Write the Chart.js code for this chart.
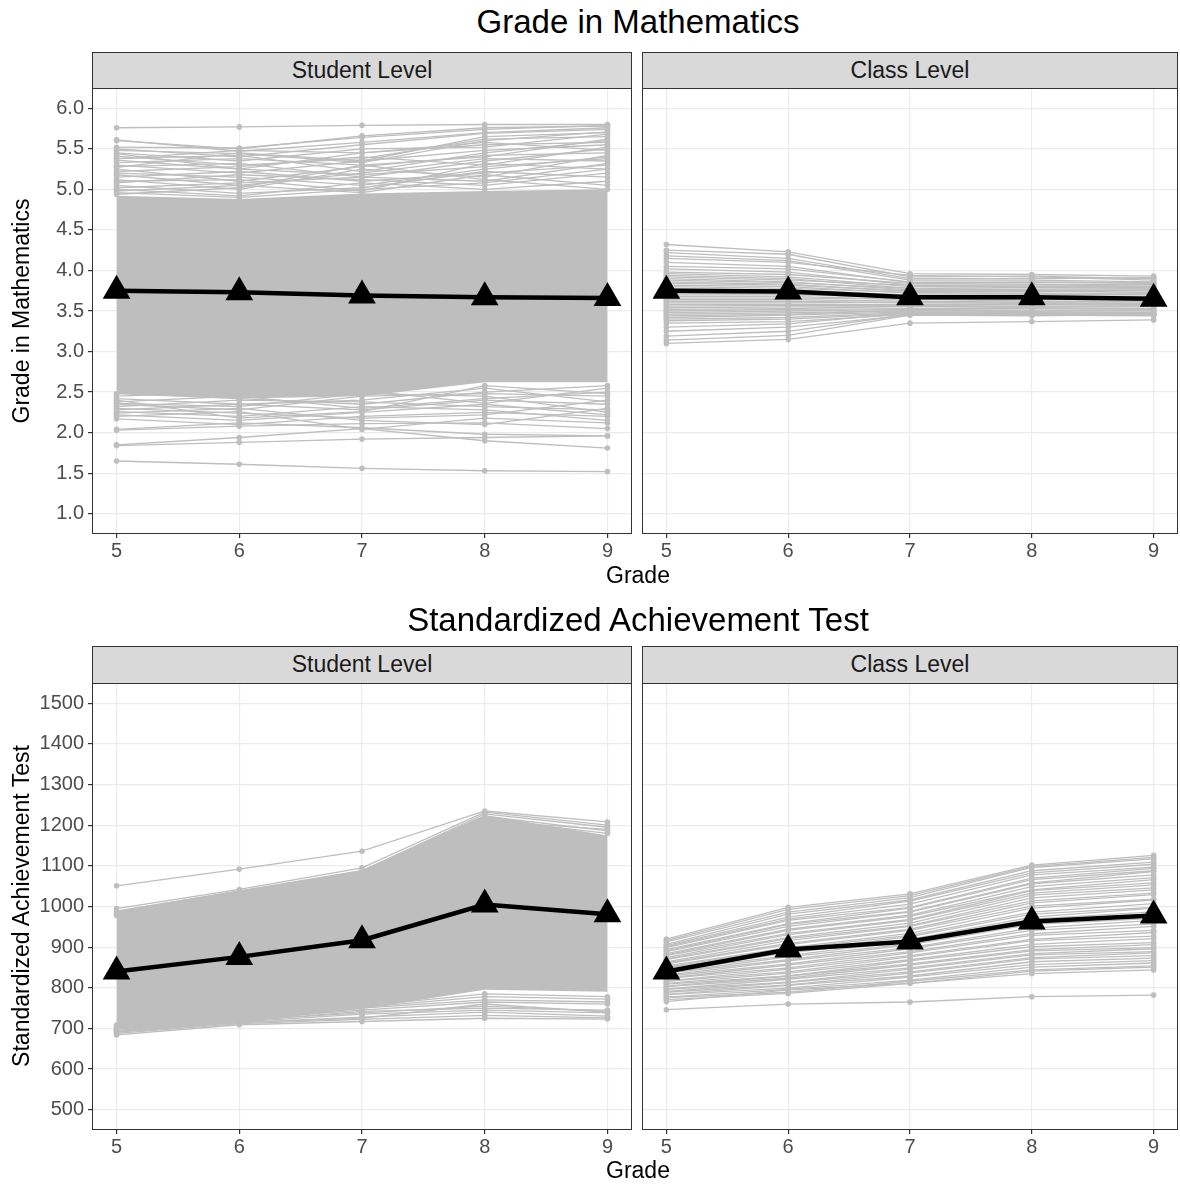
<!DOCTYPE html>
<html>
<head>
<meta charset="utf-8">
<script src="https://cdn.jsdelivr.net/npm/chart.js@4.4.0/dist/chart.umd.min.js"></script>
<style>
  body {
    margin: 0;
    width: 1180px;
    height: 1186px;
    overflow: hidden;
    background: #fff;
    position: relative;
    font-family: "Liberation Sans", Arial, sans-serif;
  }
  .abs { position: absolute; }
  .title { left: 92px; width: 1092px; height: 44px; line-height: 44px; font-size: 33px; color: #000; text-align: center; }
  .strip { background: #d9d9d9; border: 1px solid #333; box-sizing: border-box; font-size: 23px; color: #1a1a1a; text-align: center; line-height: 35px; }
  .xtitle { left: 92px; width: 1092px; height: 28px; line-height: 28px; font-size: 23px; color: #000; text-align: center; }
  .ytitle { width: 460px; height: 28px; line-height: 28px; font-size: 23px; color: #000; text-align: center; transform: rotate(-90deg); }
</style>
</head>
<body>
<div class="abs title" style="top:0">Grade in Mathematics</div>
<div class="abs strip" style="left:92px;top:52px;width:540px;height:37px">Student Level</div>
<div class="abs strip" style="left:642px;top:52px;width:536px;height:37px">Class Level</div>
<canvas id="mathStudent" class="abs" style="left:0;top:88px"></canvas>
<canvas id="mathClass" class="abs" style="left:642px;top:88px"></canvas>
<div class="abs xtitle" style="top:561px">Grade</div>
<div class="abs ytitle" style="left:-209px;top:297px">Grade in Mathematics</div>

<div class="abs title" style="top:598px">Standardized Achievement Test</div>
<div class="abs strip" style="left:92px;top:646px;width:540px;height:38px">Student Level</div>
<div class="abs strip" style="left:642px;top:646px;width:536px;height:38px">Class Level</div>
<canvas id="testStudent" class="abs" style="left:0;top:683px"></canvas>
<canvas id="testClass" class="abs" style="left:642px;top:683px"></canvas>
<div class="abs xtitle" style="top:1156px">Grade</div>
<div class="abs ytitle" style="left:-209px;top:892px">Standardized Achievement Test</div>

<script>
const grades = [5, 6, 7, 8, 9];
const mathTicks = [1.0, 1.5, 2.0, 2.5, 3.0, 3.5, 4.0, 4.5, 5.0, 5.5, 6.0];
const testTicks = [500, 600, 700, 800, 900, 1000, 1100, 1200, 1300, 1400, 1500];

// Grade in Mathematics, student level: dense core + visible fringe lines
const mathStudentMean = [3.75, 3.73, 3.69, 3.67, 3.66];
const mathStudentBandTop = [4.92, 4.88, 4.95, 4.98, 5.0];
const mathStudentBandBottom = [2.48, 2.42, 2.45, 2.62, 2.62];
const mathStudentLines = [
  [5.76, 5.77, 5.79, 5.80, 5.80],
  [5.61, 5.47, 5.58, 5.70, 5.76],
  [5.60, 5.50, 5.66, 5.76, 5.78],
  [5.52, 5.51, 5.64, 5.74, 5.79],
  [5.50, 5.40, 5.55, 5.69, 5.74],
  [5.48, 5.44, 5.33, 5.60, 5.71],
  [5.45, 5.35, 5.50, 5.52, 5.68],
  [5.44, 5.25, 5.18, 5.28, 5.38],
  [5.41, 5.30, 5.38, 5.62, 5.65],
  [5.38, 5.42, 5.22, 5.45, 5.60],
  [5.38, 5.48, 5.45, 5.58, 5.48],
  [5.36, 5.25, 5.45, 5.55, 5.58],
  [5.33, 5.38, 5.30, 5.40, 5.62],
  [5.30, 5.20, 5.35, 5.48, 5.55],
  [5.28, 5.32, 5.15, 5.35, 5.50],
  [5.27, 5.45, 5.35, 5.65, 5.70],
  [5.25, 5.10, 5.28, 5.42, 5.45],
  [5.22, 5.28, 5.40, 5.30, 5.52],
  [5.20, 5.15, 5.05, 5.25, 5.40],
  [5.18, 5.05, 5.20, 5.38, 5.35],
  [5.15, 5.22, 5.10, 5.20, 5.30],
  [5.12, 5.00, 5.25, 5.15, 5.42],
  [5.10, 5.12, 4.98, 5.32, 5.25],
  [5.08, 5.18, 5.12, 5.05, 5.20],
  [5.05, 4.95, 5.02, 5.22, 5.15],
  [5.02, 5.08, 5.15, 5.10, 5.32],
  [5.00, 4.92, 5.08, 5.00, 5.10],
  [4.98, 5.05, 4.96, 5.18, 5.05],
  [4.96, 4.90, 5.00, 5.08, 5.25],
  [4.94, 5.02, 5.30, 5.12, 5.00],
  [2.48, 2.42, 2.35, 2.50, 2.58],
  [2.45, 2.50, 2.52, 2.36, 2.55],
  [2.42, 2.35, 2.40, 2.55, 2.38],
  [2.40, 2.18, 2.26, 2.58, 2.48],
  [2.38, 2.45, 2.30, 2.42, 2.50],
  [2.36, 2.32, 2.48, 2.45, 2.25],
  [2.35, 2.28, 2.45, 2.48, 2.45],
  [2.32, 2.40, 2.38, 2.32, 2.28],
  [2.30, 2.24, 2.18, 2.22, 2.40],
  [2.28, 2.35, 2.28, 2.40, 2.35],
  [2.26, 2.20, 2.32, 2.28, 2.15],
  [2.24, 2.30, 2.15, 2.10, 2.30],
  [2.22, 2.15, 2.25, 2.35, 2.22],
  [2.20, 2.26, 2.04, 2.18, 2.12],
  [2.17, 2.10, 2.20, 2.25, 2.20],
  [2.04, 2.12, 2.06, 1.98, 1.96],
  [2.03, 2.08, 2.11, 2.12, 2.05],
  [1.85, 1.94, 2.05, 1.90, 1.81],
  [1.84, 1.88, 1.92, 1.94, 1.96],
  [1.65, 1.61, 1.56, 1.53, 1.52],
];

// Grade in Mathematics, class level
const mathClassMean = [3.75, 3.74, 3.67, 3.67, 3.65];
const mathClassLines = [
  [4.32, 4.23, 3.96, 3.95, 3.93],
  [4.25, 4.20, 3.92, 3.93, 3.90],
  [4.22, 4.15, 3.90, 3.90, 3.91],
  [4.18, 4.12, 3.88, 3.88, 3.86],
  [4.15, 4.10, 3.94, 3.92, 3.88],
  [4.10, 4.05, 3.85, 3.86, 3.85],
  [4.05, 4.02, 3.86, 3.85, 3.84],
  [4.02, 3.98, 3.82, 3.82, 3.83],
  [3.98, 3.95, 3.84, 3.83, 3.80],
  [3.96, 3.92, 3.80, 3.80, 3.81],
  [3.94, 3.90, 3.78, 3.79, 3.78],
  [3.92, 3.88, 3.82, 3.80, 3.79],
  [3.90, 3.86, 3.76, 3.77, 3.77],
  [3.88, 3.85, 3.78, 3.76, 3.75],
  [3.86, 3.83, 3.74, 3.74, 3.76],
  [3.84, 3.82, 3.75, 3.75, 3.73],
  [3.82, 3.80, 3.72, 3.72, 3.72],
  [3.80, 3.78, 3.73, 3.71, 3.70],
  [3.78, 3.76, 3.70, 3.70, 3.71],
  [3.76, 3.75, 3.68, 3.69, 3.68],
  [3.74, 3.72, 3.69, 3.68, 3.67],
  [3.72, 3.71, 3.66, 3.66, 3.66],
  [3.70, 3.70, 3.67, 3.65, 3.64],
  [3.68, 3.68, 3.64, 3.64, 3.65],
  [3.66, 3.66, 3.65, 3.62, 3.62],
  [3.64, 3.64, 3.62, 3.61, 3.61],
  [3.62, 3.62, 3.60, 3.60, 3.59],
  [3.60, 3.60, 3.61, 3.59, 3.58],
  [3.58, 3.58, 3.58, 3.58, 3.57],
  [3.56, 3.57, 3.57, 3.56, 3.56],
  [3.54, 3.55, 3.55, 3.55, 3.55],
  [3.52, 3.53, 3.56, 3.54, 3.53],
  [3.50, 3.52, 3.53, 3.53, 3.52],
  [3.48, 3.50, 3.52, 3.51, 3.51],
  [3.46, 3.48, 3.50, 3.50, 3.50],
  [3.44, 3.46, 3.51, 3.49, 3.48],
  [3.42, 3.45, 3.49, 3.48, 3.47],
  [3.40, 3.42, 3.48, 3.47, 3.48],
  [3.38, 3.40, 3.47, 3.46, 3.46],
  [3.35, 3.37, 3.46, 3.45, 3.47],
  [3.30, 3.34, 3.48, 3.46, 3.45],
  [3.25, 3.30, 3.45, 3.44, 3.46],
  [3.19, 3.25, 3.46, 3.45, 3.44],
  [3.14, 3.20, 3.45, 3.46, 3.45],
  [3.10, 3.15, 3.35, 3.37, 3.39],
];

// Standardized Achievement Test, student level
const testStudentMean = [840, 876, 917, 1005, 981];
const testStudentBandTop = [990, 1040, 1090, 1225, 1175];
const testStudentBandBottom = [697, 715, 748, 795, 790];
const testStudentLines = [
  [1051, 1092, 1136, 1235, 1208],
  [995, 1042, 1095, 1232, 1200],
  [985, 1035, 1088, 1228, 1195],
  [978, 1030, 1078, 1222, 1186],
  [988, 1038, 1085, 1215, 1180],
  [980, 1028, 1080, 1210, 1190],
  [708, 728, 755, 785, 778],
  [705, 725, 752, 778, 772],
  [702, 724, 750, 770, 765],
  [700, 722, 745, 765, 760],
  [698, 720, 738, 755, 742],
  [695, 718, 742, 750, 745],
  [693, 715, 725, 760, 740],
  [692, 716, 735, 745, 738],
  [690, 714, 728, 740, 730],
  [688, 712, 722, 732, 726],
  [684, 709, 717, 725, 723],
];

// Standardized Achievement Test, class level
const testClassMean = [840, 894, 914, 963, 978];
const testClassLines = [
  [920, 998, 1031, 1102, 1126],
  [916, 993, 1027, 1099, 1121],
  [913, 986, 1022, 1096, 1117],
  [907, 981, 1016, 1088, 1109],
  [904, 974, 1013, 1083, 1104],
  [901, 969, 1006, 1078, 1097],
  [899, 966, 998, 1070, 1094],
  [894, 958, 996, 1066, 1088],
  [891, 956, 988, 1058, 1086],
  [889, 951, 986, 1056, 1078],
  [884, 944, 979, 1049, 1071],
  [881, 941, 976, 1041, 1066],
  [879, 934, 968, 1039, 1058],
  [874, 931, 966, 1033, 1053],
  [871, 924, 959, 1028, 1046],
  [869, 921, 953, 1021, 1041],
  [864, 916, 951, 1014, 1033],
  [861, 909, 944, 1009, 1029],
  [859, 906, 941, 1001, 1018],
  [854, 899, 934, 996, 1016],
  [851, 896, 929, 986, 1007],
  [849, 889, 926, 981, 998],
  [844, 886, 919, 974, 996],
  [843, 879, 916, 969, 987],
  [837, 876, 908, 961, 981],
  [836, 869, 906, 956, 971],
  [831, 866, 899, 947, 966],
  [829, 859, 896, 941, 957],
  [824, 856, 889, 933, 951],
  [823, 849, 886, 929, 941],
  [817, 846, 879, 919, 936],
  [816, 839, 876, 916, 927],
  [811, 836, 869, 907, 921],
  [809, 829, 866, 901, 911],
  [804, 829, 859, 894, 906],
  [803, 824, 856, 891, 899],
  [797, 821, 849, 884, 896],
  [796, 814, 846, 881, 889],
  [791, 813, 839, 874, 886],
  [789, 807, 836, 871, 879],
  [784, 806, 829, 864, 873],
  [783, 799, 826, 857, 867],
  [777, 796, 819, 851, 861],
  [776, 789, 816, 844, 854],
  [771, 786, 811, 841, 851],
  [766, 795, 811, 835, 844],
  [746, 760, 765, 778, 782],
];

const FONT = '"Liberation Sans", Arial, sans-serif';
const LINE_GRAY = "#bebebe";

const panelBorder = {
  id: "panelBorder",
  afterDraw(chart) {
    const { ctx, chartArea: a } = chart;
    ctx.save();
    ctx.strokeStyle = "#333";
    ctx.lineWidth = 1;
    ctx.strokeRect(a.left + 0.5, a.top + 0.5, a.right - a.left - 1, a.bottom - a.top - 1);
    ctx.restore();
  },
};

function toPoints(values) {
  return grades.map((g, i) => ({ x: g, y: values[i] }));
}

function makePanel(canvasId, opts) {
  const canvas = document.getElementById(canvasId);
  canvas.width = opts.width;
  canvas.height = opts.height;

  const datasets = [
    {
      data: toPoints(opts.mean),
      borderColor: "#000",
      borderWidth: 4.5,
      backgroundColor: "#000",
      pointStyle: "triangle",
      pointRadius: 16,
      pointBorderWidth: 0,
      pointBackgroundColor: "#000",
    },
  ];

  if (opts.bandTop) {
    datasets.push({
      data: toPoints(opts.bandTop),
      borderWidth: 0,
      pointRadius: 0,
      backgroundColor: LINE_GRAY,
      fill: "+1",
    });
    datasets.push({
      data: toPoints(opts.bandBottom),
      borderWidth: 0,
      pointRadius: 0,
      fill: false,
    });
  }

  opts.lines.forEach((line) => {
    datasets.push({
      data: toPoints(line),
      borderColor: LINE_GRAY,
      borderWidth: 1.3,
      pointRadius: 2.8,
      pointBorderWidth: 0,
      pointBackgroundColor: LINE_GRAY,
      fill: false,
    });
  });

  new Chart(canvas, {
    type: "line",
    data: { datasets },
    options: {
      responsive: false,
      animation: false,
      events: [],
      layout: { padding: 0, autoPadding: false },
      plugins: { legend: { display: false }, tooltip: { enabled: false } },
      scales: {
        x: {
          type: "linear",
          min: 4.8,
          max: 9.2,
          afterBuildTicks: (s) => {
            s.ticks = grades.map((v) => ({ value: v }));
          },
          afterFit: (s) => {
            s.height = 30;
            s.paddingLeft = 0;
            s.paddingRight = 0;
          },
          border: { display: false },
          grid: { color: "#ebebeb", lineWidth: 1.2, tickColor: "#333", tickLength: 4 },
          ticks: {
            color: "#4d4d4d",
            padding: 1,
            maxRotation: 0,
            font: { family: FONT, size: 20 },
            callback: (v) => String(v),
          },
        },
        y: {
          type: "linear",
          min: opts.yMin,
          max: opts.yMax,
          afterBuildTicks: (s) => {
            s.ticks = opts.yTicks.map((v) => ({ value: v }));
          },
          afterFit: (s) => {
            s.width = opts.showY ? 92 : 0;
            s.paddingTop = 0;
            s.paddingBottom = 0;
          },
          border: { display: false },
          grid: {
            color: "#ebebeb",
            lineWidth: 1.2,
            tickColor: "#333",
            tickLength: 4,
            drawTicks: opts.showY,
          },
          ticks: {
            display: opts.showY,
            color: "#4d4d4d",
            padding: 4,
            font: { family: FONT, size: 20 },
            callback: (v) => v.toFixed(opts.decimals),
          },
        },
      },
    },
    plugins: [panelBorder],
  });
}

makePanel("mathStudent", {
  width: 632, height: 476, showY: true,
  yMin: 0.75, yMax: 6.25, yTicks: mathTicks, decimals: 1,
  mean: mathStudentMean, lines: mathStudentLines,
  bandTop: mathStudentBandTop, bandBottom: mathStudentBandBottom,
});
makePanel("mathClass", {
  width: 536, height: 476, showY: false,
  yMin: 0.75, yMax: 6.25, yTicks: mathTicks, decimals: 1,
  mean: mathClassMean, lines: mathClassLines,
});
makePanel("testStudent", {
  width: 632, height: 477, showY: true,
  yMin: 450, yMax: 1550, yTicks: testTicks, decimals: 0,
  mean: testStudentMean, lines: testStudentLines,
  bandTop: testStudentBandTop, bandBottom: testStudentBandBottom,
});
makePanel("testClass", {
  width: 536, height: 477, showY: false,
  yMin: 450, yMax: 1550, yTicks: testTicks, decimals: 0,
  mean: testClassMean, lines: testClassLines,
});
</script>
</body>
</html>
